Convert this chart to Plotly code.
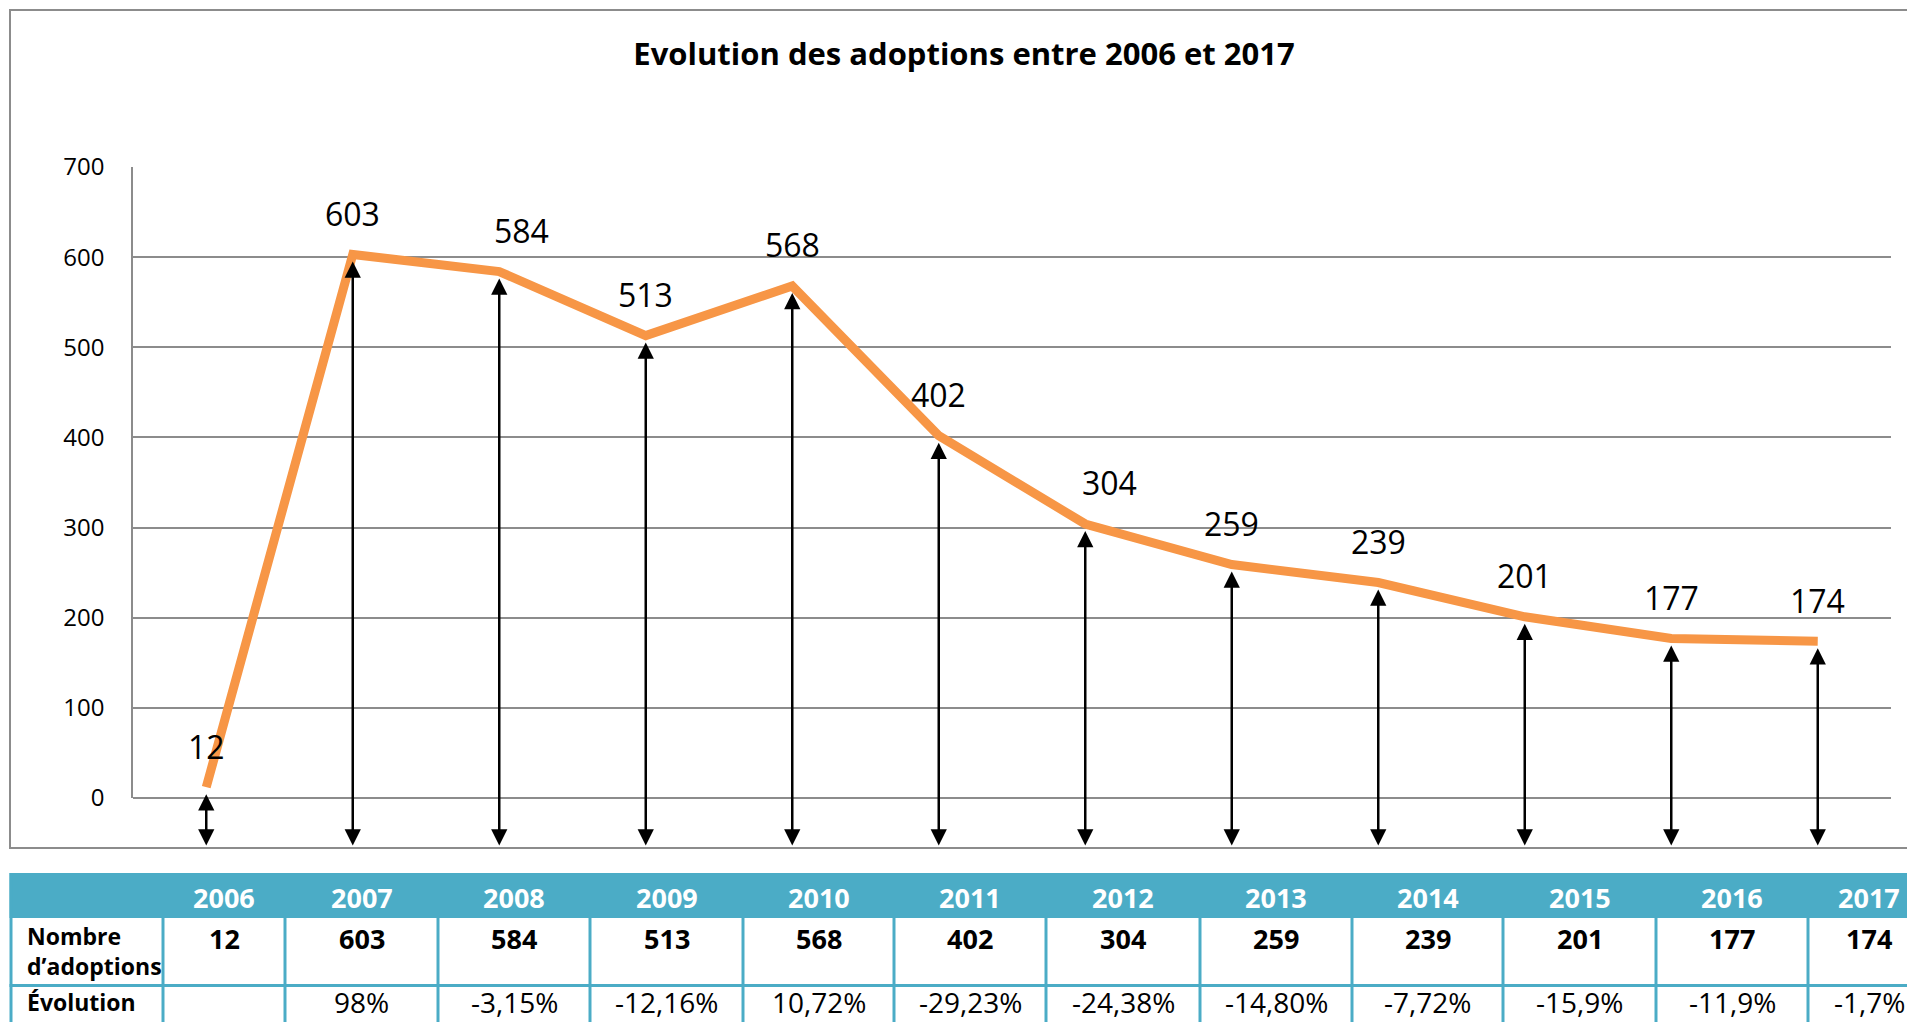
import plotly.graph_objects as go

# ---------------- data ----------------
YEARS = [2006, 2007, 2008, 2009, 2010, 2011, 2012, 2013, 2014, 2015, 2016, 2017]
ADOPTIONS = [12, 603, 584, 513, 568, 402, 304, 259, 239, 201, 177, 174]
EVOLUTION = ["", "98%", "-3,15%", "-12,16%", "10,72%", "-29,23%", "-24,38%",
             "-14,80%", "-7,72%", "-15,9%", "-11,9%", "-1,7%"]
ROW_LABELS = ["Nombre<br>d’adoptions", "Évolution"]
Y_TICKS = [0, 100, 200, 300, 400, 500, 600, 700]
TITLE = "Evolution des adoptions entre 2006 et 2017"

# ---------------- layout constants ----------------
W, H = 1907, 1022
L, R, T, B = 133, 16, 167, 224
PLOT_W = W - L - R
PLOT_H = H - T - B
Y_MAX = 700

ORANGE = "#F79646"
TEAL = "#4BACC6"
GRID = "#8C8C8C"
FONT = "Open Sans"

# small horizontal nudges of some data labels (pixels), as in the original
LABEL_XSHIFT = {2008: 22, 2012: 24}


def px_x(px):
    return (px - L) / PLOT_W


def px_y(py):
    return (H - B - py) / PLOT_H


FRAME = dict(left=10, top=10, bottom=848, right=1980)
ARROW_BOTTOM_PX = 847
arrow_tail_value = -(ARROW_BOTTOM_PX - (H - B)) / PLOT_H * Y_MAX

# table geometry (pixels)
COL_EDGES = [11, 163, 285, 438, 590, 743, 894, 1046, 1200, 1352, 1503, 1656, 1808, 1930]
TABLE_TOP = 873
HEADER_BOTTOM = 918
ROW_SPLIT = 985.5
TABLE_BOTTOM = 1080
HEADER_TEXT_Y = 897
ROW1_TEXT_Y = 938
ROW1_LABEL_Y = 951
ROW2_TEXT_Y = 1002
ROW2_LABEL_Y = 1002
LABEL_X = 26

fig = go.Figure()

fig.add_trace(go.Scatter(
    x=YEARS, y=ADOPTIONS, mode="lines",
    line=dict(color=ORANGE, width=9),
    hoverinfo="skip", showlegend=False,
))

annotations = []
# double-headed arrows from each point down to the chart frame
for yr, v in zip(YEARS, ADOPTIONS):
    annotations.append(dict(
        x=yr, y=v, xref="x", yref="y",
        ax=yr, ay=arrow_tail_value, axref="x", ayref="y",
        text="", showarrow=True,
        arrowhead=2, arrowsize=1.3, arrowwidth=2.5, arrowcolor="black",
        arrowside="end+start", startarrowhead=2, startarrowsize=1.3,
        standoff=7, font=dict(size=1),
    ))
# data labels
for yr, v in zip(YEARS, ADOPTIONS):
    annotations.append(dict(
        x=yr, y=v, xref="x", yref="y", text=str(v), showarrow=False,
        yshift=41, xshift=LABEL_XSHIFT.get(yr, 0),
        font=dict(size=32, color="black", family=FONT),
    ))

# table texts
for i, yr in enumerate(YEARS):
    cx = (COL_EDGES[i + 1] + COL_EDGES[i + 2]) / 2
    annotations.append(dict(
        x=px_x(cx), y=px_y(HEADER_TEXT_Y), xref="paper", yref="paper",
        text=f"<b>{yr}</b>", showarrow=False, xanchor="center", yanchor="middle",
        font=dict(size=27, color="white", family=FONT),
    ))
    annotations.append(dict(
        x=px_x(cx), y=px_y(ROW1_TEXT_Y), xref="paper", yref="paper",
        text=f"<b>{ADOPTIONS[i]}</b>", showarrow=False, xanchor="center", yanchor="middle",
        font=dict(size=27, color="black", family=FONT),
    ))
    if EVOLUTION[i]:
        annotations.append(dict(
            x=px_x(cx), y=px_y(ROW2_TEXT_Y), xref="paper", yref="paper",
            text=EVOLUTION[i], showarrow=False, xanchor="center", yanchor="middle",
            borderpad=0,
            font=dict(size=28, color="black", family=FONT),
        ))
for lab, ly in zip(ROW_LABELS, [ROW1_LABEL_Y, ROW2_LABEL_Y]):
    annotations.append(dict(
        x=px_x(LABEL_X), y=px_y(ly), xref="paper", yref="paper",
        text=f"<b>{lab}</b>", showarrow=False, xanchor="left", yanchor="middle",
        align="left", borderpad=0, font=dict(size=23, color="black", family=FONT),
    ))

shapes = []
# outer chart frame
shapes.append(dict(type="rect", xref="paper", yref="paper",
                   x0=px_x(FRAME["left"]), x1=px_x(FRAME["right"]),
                   y0=px_y(FRAME["bottom"]), y1=px_y(FRAME["top"]),
                   line=dict(color=GRID, width=2), fillcolor="rgba(0,0,0,0)", layer="below"))
# table header band
shapes.append(dict(type="rect", xref="paper", yref="paper",
                   x0=px_x(9.5), x1=px_x(1980), y0=px_y(HEADER_BOTTOM), y1=px_y(TABLE_TOP),
                   line=dict(width=0), fillcolor=TEAL))
# table grid lines
for e in COL_EDGES[:-1]:
    shapes.append(dict(type="line", xref="paper", yref="paper",
                       x0=px_x(e), x1=px_x(e), y0=px_y(TABLE_TOP if e == COL_EDGES[0] else HEADER_BOTTOM),
                       y1=px_y(TABLE_BOTTOM), line=dict(color=TEAL, width=3)))
shapes.append(dict(type="line", xref="paper", yref="paper",
                   x0=px_x(9.5), x1=px_x(1980), y0=px_y(ROW_SPLIT), y1=px_y(ROW_SPLIT),
                   line=dict(color=TEAL, width=3)))

fig.update_layout(
    width=W, height=H,
    margin=dict(l=L, r=R, t=T, b=B, pad=0),
    paper_bgcolor="white", plot_bgcolor="white",
    font=dict(family=FONT, color="black"),
    title=dict(text=f"<b>{TITLE}</b>", x=964 / W, xanchor="center",
               y=1 - 54 / H, yanchor="middle",
               font=dict(size=31, color="black", family=FONT)),
    xaxis=dict(range=[YEARS[0] - 0.5, YEARS[-1] + 0.5], visible=False, fixedrange=True),
    yaxis=dict(range=[0, Y_MAX], tickvals=Y_TICKS, showgrid=True, gridcolor=GRID, gridwidth=1.5,
               showline=True, linecolor=GRID, linewidth=1.5,
               zeroline=True, zerolinecolor=GRID, zerolinewidth=1.5,
               ticks="", ticklabelstandoff=22,
               tickfont=dict(size=24, color="black", family=FONT), fixedrange=True),
    annotations=annotations,
    shapes=shapes,
    showlegend=False,
)

fig.write_html("out.html", config={"displayModeBar": False},
               post_script="document.body.style.margin='0';document.body.style.overflow='hidden';")
